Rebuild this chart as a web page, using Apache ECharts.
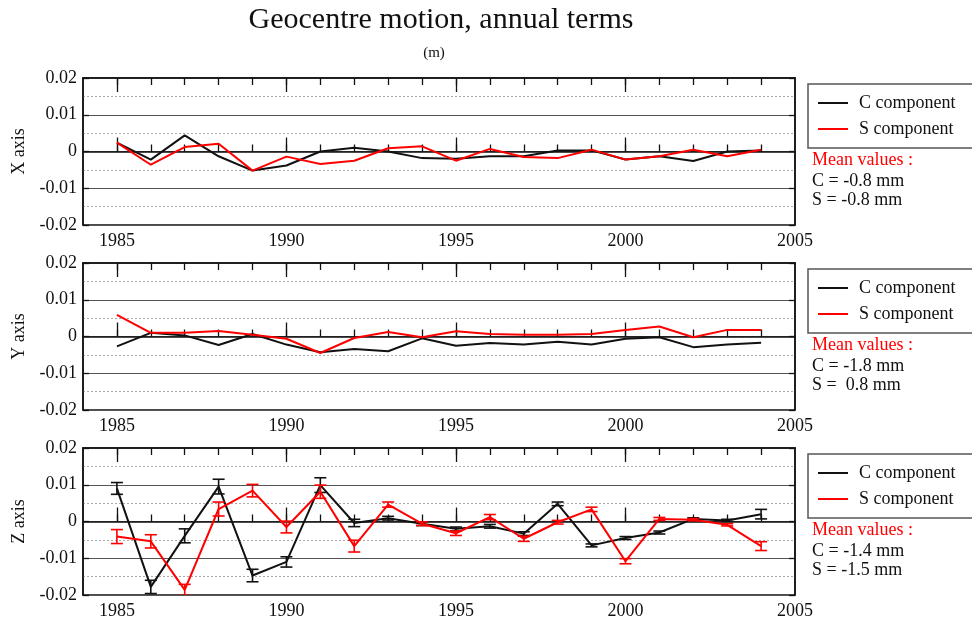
<!DOCTYPE html>
<html>
<head>
<meta charset="utf-8">
<script src="https://cdn.jsdelivr.net/npm/echarts@6/dist/echarts.min.js"></script>
<style>html,body{margin:0;padding:0;background:#fff;}#c{width:972px;height:621px;}</style>
</head>
<body>
<div id="c"></div>
<script>
const years = [1985,1986,1987,1988,1989,1990,1991,1992,1993,1994,1995,1996,1997,1998,1999,2000,2001,2002,2003,2004];
const xTickLabels = [1985,1990,1995,2000,2005];
const yTickLabels = [-0.02,-0.01,0,0.01,0.02];
const panelNames = ['X axis','Y axis','Z axis'];

const xC = [0.0024,-0.0022,0.0044,-0.0013,-0.0052,-0.0038,0.0000,0.0010,0.0000,-0.0018,-0.0020,-0.0013,-0.0013,0.0003,0.0003,-0.0022,-0.0013,-0.0026,0.0000,0.0003];
const xS = [0.0024,-0.0036,0.0012,0.0021,-0.0052,-0.0014,-0.0034,-0.0025,0.0009,0.0014,-0.0025,0.0007,-0.0015,-0.0018,0.0005,-0.0022,-0.0013,0.0005,-0.0013,0.0005];

const yC = [-0.0027,0.0010,0.0003,-0.0023,0.0007,-0.0022,-0.0043,-0.0034,-0.0040,-0.0005,-0.0025,-0.0018,-0.0022,-0.0014,-0.0022,-0.0006,-0.0002,-0.0029,-0.0022,-0.0017];
const yS = [0.0059,0.0010,0.0010,0.0015,0.0005,-0.0006,-0.0045,-0.0004,0.0012,-0.0002,0.0014,0.0007,0.0005,0.0005,0.0007,0.0018,0.0027,-0.0002,0.0018,0.0018];

const zC = [0.0090,-0.0178,-0.0039,0.0095,-0.0147,-0.0110,0.0099,-0.0004,0.0009,-0.0006,-0.0020,-0.0013,-0.0033,0.0048,-0.0065,-0.0045,-0.0030,0.0007,0.0003,0.0020];
const zCerr = [0.0016,0.0018,0.0019,0.0020,0.0017,0.0014,0.0020,0.0010,0.0005,0.0005,0.0005,0.0005,0.0005,0.0005,0.0004,0.0004,0.0004,0.0003,0.0003,0.0013];
const zS = [-0.0041,-0.0054,-0.0186,0.0034,0.0084,-0.0015,0.0081,-0.0067,0.0046,-0.0006,-0.0032,0.0012,-0.0047,-0.0002,0.0033,-0.0108,0.0007,0.0005,-0.0009,-0.0067];
const zSerr = [0.0019,0.0018,0.0015,0.0019,0.0017,0.0016,0.0018,0.0016,0.0007,0.0005,0.0006,0.0007,0.0007,0.0005,0.0006,0.0007,0.0004,0.0003,0.0003,0.0012];

const meanC = ['-0.8','-1.8','-1.4'];
const meanS = ['-0.8',' 0.8','-1.5'];

const FONT = 'Liberation Serif, Times New Roman, serif';
const tops = [78, 263, 448];
const H = 147;
const RED = '#ff0000';

const grids = [], xAxes = [], yAxes = [], series = [], legends = [], graphics = [];

function pairs(vals){ return years.map((y,i)=>[y, vals[i]]); }
function triples(vals, errs){ return years.map((y,i)=>[y, vals[i], errs[i]]); }

tops.forEach((t, g) => {
  grids.push({left:83, width:712, top:t, height:H, show:true, borderColor:'#111', borderWidth:1.5, backgroundColor:'transparent'});
  const base = {type:'value', gridIndex:g, min:1984, max:2005, splitLine:{show:false}};
  xAxes.push(Object.assign({}, base, {position:'bottom',
    axisLine:{show:true, lineStyle:{color:'#111', width:1.5}},
    axisTick:{show:true, inside:true, length:14, customValues:[1985,1990,1995,2000], lineStyle:{color:'#111', width:1.3}},
    axisLabel:{show:true, customValues:xTickLabels, margin:7, fontFamily:FONT, fontSize:18, color:'#111',
      formatter:v => String(Math.round(v))}}));
  xAxes.push(Object.assign({}, base, {position:'bottom',
    axisLine:{show:false},
    axisTick:{show:true, inside:true, length:7, customValues:years, lineStyle:{color:'#111', width:1.3}},
    axisLabel:{show:false}}));
  xAxes.push(Object.assign({}, base, {position:'top',
    axisLine:{show:true, lineStyle:{color:'#111', width:1.5}},
    axisTick:{show:true, inside:true, length:14, customValues:[1985,1990,1995,2000], lineStyle:{color:'#111', width:1.3}},
    axisLabel:{show:false}}));
  xAxes.push(Object.assign({}, base, {position:'top',
    axisLine:{show:false},
    axisTick:{show:true, inside:true, length:7, customValues:years, lineStyle:{color:'#111', width:1.3}},
    axisLabel:{show:false}}));

  yAxes.push({type:'value', gridIndex:g, position:'left', min:-0.02, max:0.02, interval:0.01,
    name:panelNames[g], nameLocation:'middle', nameRotate:90, nameGap:55,
    nameTextStyle:{fontFamily:FONT, fontSize:18, color:'#111'},
    axisLine:{show:true, lineStyle:{color:'#111', width:1.5}},
    axisTick:{show:true, inside:true, length:6, lineStyle:{color:'#111', width:1.3}},
    axisLabel:{show:true, margin:6, fontFamily:FONT, fontSize:18, color:'#111',
      customValues:yTickLabels,
      formatter:v => (Math.abs(v) < 1e-9 ? '0' : v.toFixed(2))},
    splitLine:{show:true, lineStyle:{color:'#555', width:1.2, type:'solid'}},
    minorTick:{show:true, splitNumber:2, length:0},
    minorSplitLine:{show:true, lineStyle:{color:'#aaa', width:1, type:[2,2]}}});
  yAxes.push({type:'value', gridIndex:g, position:'right', min:-0.02, max:0.02, interval:0.01,
    axisLine:{show:true, lineStyle:{color:'#111', width:1.5}},
    axisTick:{show:true, inside:true, length:6, lineStyle:{color:'#111', width:1.3}},
    axisLabel:{show:false}, splitLine:{show:false}});

  legends.push({data:[{name:'C component', icon:'rect'},{name:'S component', icon:'rect'}],
    left:808, top:t+6, orient:'vertical',
    itemWidth:30, itemHeight:2, itemGap:6,
    padding:[9, 30, 9, 10], borderColor:'#555', borderWidth:1.5, backgroundColor:'#fff',
    selectedMode:false,
    textStyle:{fontFamily:FONT, fontSize:18, color:'#111', padding:[0,0,0,6], lineHeight:20}});

  const my = t + 84;
  graphics.push({type:'text', left:812, top:my - 11, style:{text:'Mean values :', fontFamily:FONT, fontSize:18, fill:RED}});
  graphics.push({type:'text', left:812, top:my + 10, style:{text:'C = ' + meanC[g] + ' mm', fontFamily:FONT, fontSize:18, fill:'#111'}});
  graphics.push({type:'text', left:812, top:my + 29, style:{text:'S = ' + meanS[g] + ' mm', fontFamily:FONT, fontSize:18, fill:'#111'}});
});

const dataSets = [[xC, xS], [yC, yS], [zC, zS]];
dataSets.forEach((d, g) => {
  series.push({name:'C component', type:'line', xAxisIndex:g*4, yAxisIndex:g*2, data:pairs(d[0]),
    symbol:'none', lineStyle:{color:'#111', width:2}, itemStyle:{color:'#111'}, z:3, animation:false});
  series.push({name:'S component', type:'line', xAxisIndex:g*4, yAxisIndex:g*2, data:pairs(d[1]),
    symbol:'none', lineStyle:{color:RED, width:2}, itemStyle:{color:RED}, z:4, animation:false});
});

function errRender(color){
  return function(params, api){
    const x = api.value(0), y = api.value(1), e = api.value(2);
    const p1 = api.coord([x, y + e]), p2 = api.coord([x, y - e]);
    const hw = 6;
    const st = {stroke:color, lineWidth:1.6};
    return {type:'group', children:[
      {type:'line', shape:{x1:p1[0], y1:p1[1], x2:p2[0], y2:p2[1]}, style:st},
      {type:'line', shape:{x1:p1[0]-hw, y1:p1[1], x2:p1[0]+hw, y2:p1[1]}, style:st},
      {type:'line', shape:{x1:p2[0]-hw, y1:p2[1], x2:p2[0]+hw, y2:p2[1]}, style:st}
    ]};
  };
}
series.push({name:'C error', type:'custom', xAxisIndex:8, yAxisIndex:4, data:triples(zC, zCerr),
  encode:{x:0, y:1}, renderItem:errRender('#111'), clip:true, z:3, animation:false});
series.push({name:'S error', type:'custom', xAxisIndex:8, yAxisIndex:4, data:triples(zS, zSerr),
  encode:{x:0, y:1}, renderItem:errRender(RED), clip:true, z:4, animation:false});

graphics.push({type:'text', x:441, y:20, style:{text:'Geocentre motion, annual terms', fontFamily:FONT, fontSize:30, fill:'#111', align:'center', verticalAlign:'middle'}});
graphics.push({type:'text', x:434, y:53, style:{text:'(m)', fontFamily:FONT, fontSize:15, fill:'#111', align:'center', verticalAlign:'middle'}});

const chart = echarts.init(document.getElementById('c'), null, {renderer:'canvas'});
chart.setOption({
  animation:false,
  backgroundColor:'#fff',
  grid:grids, xAxis:xAxes, yAxis:yAxes, series:series, legend:legends, graphic:graphics
});
</script>
</body>
</html>
